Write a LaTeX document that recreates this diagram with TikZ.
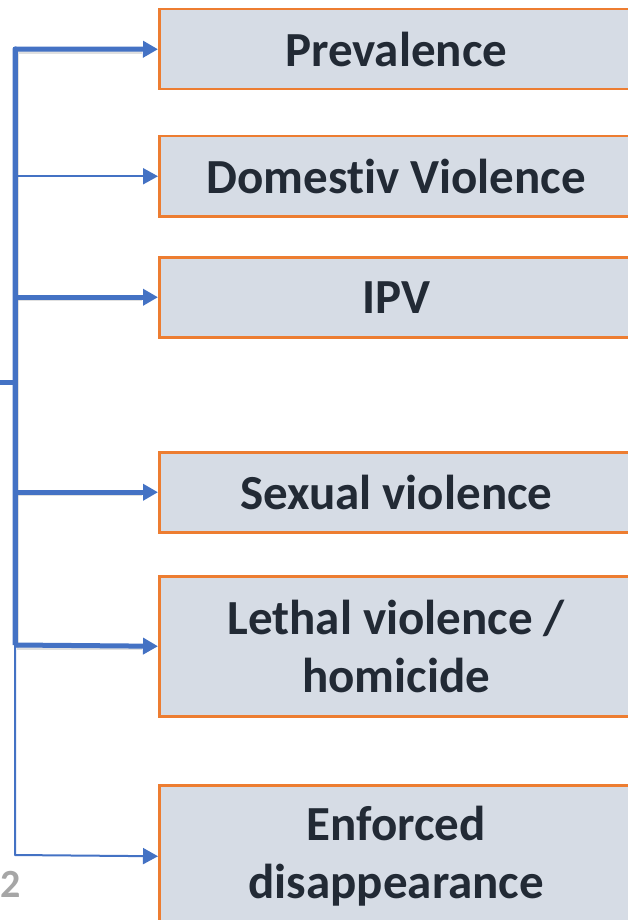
\documentclass[tikz,border=0pt]{standalone}
\usepackage{fontspec}
\setmainfont{Carlito}[RawFeature=-liga]
\usetikzlibrary{arrows.meta}
\definecolor{linkblue}{HTML}{4472C4}
\definecolor{boxorange}{HTML}{ED7D31}
\definecolor{boxfill}{HTML}{D6DCE5}
\definecolor{boxtext}{HTML}{222A35}
\definecolor{numgray}{HTML}{A6A6A6}
\tikzset{
  topicbox/.style={draw=boxorange, line width=2.5pt, fill=boxfill, anchor=north west,
    minimum width=474pt, inner sep=0pt, align=center, text=boxtext,
    font=\fontsize{49}{58}\selectfont\bfseries},
  thicklink/.style={draw=linkblue, line width=5pt, -{Triangle[length=15pt,width=16pt]}},
  thinlink/.style={draw=linkblue, line width=2pt, -{Triangle[length=15pt,width=16pt]}},
  trunkthick/.style={draw=linkblue, line width=5pt},
  trunkthin/.style={draw=linkblue, line width=2pt},
  shadowline/.style={draw=black!35, line width=5pt, opacity=0.35},
}
\begin{document}
\begin{tikzpicture}[x=1pt,y=-1pt]
\useasboundingbox (0,0) rectangle (628,920);
\clip (0,0) rectangle (628,920);
% boxes
\node[topicbox, minimum height=80pt] (prev) at (158,8) {Prevalence};
\node[topicbox, minimum height=80pt] (dom) at (158,135) {Domestiv Violence};
\node[topicbox, minimum height=80pt] (ipv) at (158,256) {IPV};
\node[topicbox, minimum height=80pt] (sex) at (158,451) {Sexual violence};
\node[topicbox, minimum height=140pt] (leth) at (158,575) {Lethal violence /\\homicide};
\node[topicbox, minimum height=142pt] (enf) at (158,784) {Enforced\\disappearance};
% trunk coordinates
\coordinate (ttop) at (15,49);
\coordinate (tmid) at (15,645);
\coordinate (tbot) at (15,855);
\coordinate (hub) at (15,382);
\coordinate (hubin) at (-2,382);
% shadows
\begin{scope}[shift={(1.5,2.5)}]
\draw[shadowline] (hubin) -- (hub);
\draw[shadowline] (15,645) -- (15,49) -- (140,49);
\draw[shadowline] (15,296) -- (140,296);
\draw[shadowline] (15,491) -- (140,491);
\draw[shadowline] (15,645) -- (140,645);
\end{scope}
% trunk
\draw[trunkthin] (tmid) -- (tbot);
\draw[trunkthick, line join=round] (tmid) -- (ttop);
\draw[trunkthick] (hubin) -- (hub);
% links
\draw[thicklink, line join=round] (tmid) -- (ttop) -- (prev.west);
\draw[thinlink] (ttop |- dom.west) -- (dom.west);
\draw[thicklink] (ttop |- ipv.west) -- (ipv.west);
\draw[thicklink] (ttop |- sex.west) -- (sex.west);
\draw[thicklink] (tmid) -- (leth.west);
\draw[thinlink, line join=round] (tmid) -- (tbot) -- (enf.west);
% page number
\node[anchor=base west, text=numgray, inner sep=0pt, font=\fontsize{40}{48}\selectfont\bfseries] (pnum) at (0,897) {2};
\end{tikzpicture}
\end{document}
